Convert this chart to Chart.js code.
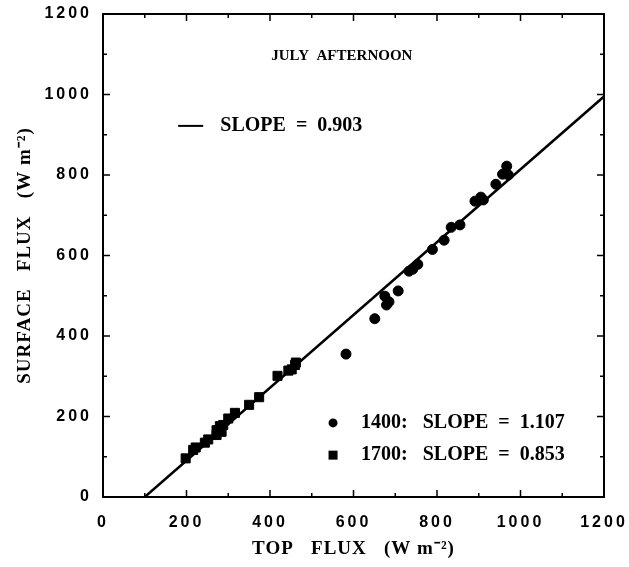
<!DOCTYPE html>
<html>
<head>
<meta charset="utf-8">
<script src="https://cdn.jsdelivr.net/npm/chart.js@4"></script>
<style>
  html, body { margin: 0; padding: 0; background: #fff; }
</style>
</head>
<body>
<canvas id="grfc_flux" width="629" height="567"></canvas>
<script>
// datos
var topFlux1400  = [582, 651, 675, 679, 685, 707, 733, 742, 754, 789, 817, 834, 855, 891, 905, 911, 941, 957, 967, 971];
var surfFlux1400 = [355, 443, 499, 477, 485, 512, 561, 566, 578, 615, 638, 670, 676, 735, 745, 738, 777, 802, 822, 800];
var topFlux1700  = [198, 216, 222, 244, 252, 272, 272, 280, 284, 288, 300, 316, 350, 374, 418, 444, 452, 460, 462];
var surfFlux1700 = [96, 117, 123, 135, 143, 154, 166, 176, 162, 179, 195, 209, 229, 248, 301, 314, 317, 328, 334];
var fitTop  = [100, 1200];
var fitSurf = [0, 995];
var axisTicks = [0, 200, 400, 600, 800, 1000, 1200];
var titulo = "JULY  AFTERNOON";
var fitLabel = "SLOPE  =  0.903";
var label1400 = "1400:   SLOPE  =  1.107";
var label1700 = "1700:   SLOPE  =  0.853";

function puntos(xs, ys) {
    return xs.map(function (x, i) { return { x: x, y: ys[i] }; });
}

var serif = "'Liberation Serif', 'Times New Roman', serif";
var sans = "'Liberation Sans', Arial, sans-serif";

// marcas, marco y textos
var adornos = {
    id: "adornos",
    beforeDraw: function (chart) {
        chart.ctx.letterSpacing = "1px";
    },
    afterDatasetsDraw: function (chart) {
        chart.ctx.letterSpacing = "3px";
    },
    afterDraw: function (chart) {
        var ctx = chart.ctx;
        var a = chart.chartArea;
        var sx = chart.scales.x, sy = chart.scales.y;
        ctx.save();
        ctx.letterSpacing = "0px";
        ctx.strokeStyle = "#000";
        ctx.lineWidth = 2;
        ctx.strokeRect(a.left, a.top, a.right - a.left, a.bottom - a.top);
        ctx.lineWidth = 1.5;
        ctx.beginPath();
        for (var v = 0; v <= 1200; v += 100) {
            var len = (v % 200 === 0) ? 7 : 4;
            var px = sx.getPixelForValue(v);
            ctx.moveTo(px, a.bottom); ctx.lineTo(px, a.bottom - len);
            ctx.moveTo(px, a.top); ctx.lineTo(px, a.top + len);
            var py = sy.getPixelForValue(v);
            ctx.moveTo(a.left, py); ctx.lineTo(a.left + len, py);
            ctx.moveTo(a.right, py); ctx.lineTo(a.right - len, py);
        }
        ctx.stroke();

        ctx.fillStyle = "#000";
        ctx.textBaseline = "middle";
        ctx.font = "bold 15px " + serif;
        ctx.textAlign = "center";
        ctx.fillText(titulo, sx.getPixelForValue(572), sy.getPixelForValue(1096));

        ctx.font = "bold 20px " + serif;
        ctx.textAlign = "left";
        ctx.lineWidth = 2;
        var ly = sy.getPixelForValue(922);
        ctx.beginPath();
        ctx.moveTo(sx.getPixelForValue(180), ly);
        ctx.lineTo(sx.getPixelForValue(240), ly);
        ctx.stroke();
        ctx.fillText(fitLabel, sx.getPixelForValue(281), ly);

        var mx = sx.getPixelForValue(551);
        var y1 = sy.getPixelForValue(184), y2 = sy.getPixelForValue(104);
        ctx.beginPath();
        ctx.arc(mx, y1, 4.5, 0, Math.PI * 2);
        ctx.fill();
        ctx.fillRect(mx - 4.5, y2 - 4.5, 9, 9);
        ctx.fillText(label1400, sx.getPixelForValue(618), y1);
        ctx.fillText(label1700, sx.getPixelForValue(618), y2);
        ctx.restore();
    }
};

var ctxFlux = document.getElementById("grfc_flux").getContext("2d");
var myChartFlux = new Chart(ctxFlux, {
    type: "scatter",
    data: {
        datasets: [{
                label: "SLOPE = 0.903",
                type: "line",
                data: puntos(fitTop, fitSurf),
                borderColor: "#000",
                borderWidth: 2.5,
                pointRadius: 0,
                fill: false
            },
            {
                label: "1400",
                data: puntos(topFlux1400, surfFlux1400),
                backgroundColor: "#000",
                borderColor: "#000",
                pointStyle: "circle",
                pointRadius: 5
            },
            {
                label: "1700",
                data: puntos(topFlux1700, surfFlux1700),
                backgroundColor: "#000",
                borderColor: "#000",
                pointStyle: "rect",
                pointRadius: 6.4
            }
        ]
    },
    options: {
        responsive: false,
        animation: false,
        layout: { padding: { top: 14, right: 25, left: 0, bottom: 0 } },
        plugins: {
            legend: { display: false },
            tooltip: { enabled: false }
        },
        scales: {
            x: {
                type: "linear",
                min: 0,
                max: 1200,
                afterFit: function (scale) {
                    scale.height = 70;
                    scale.paddingLeft = 0;
                    scale.paddingRight = 0;
                },
                afterBuildTicks: function (scale) {
                    scale.ticks = axisTicks.map(function (v) { return { value: v }; });
                },
                grid: { display: false },
                border: { display: false },
                ticks: {
                    z: 1,
                    padding: 8,
                    color: "#000",
                    maxRotation: 0,
                    font: { family: sans, weight: "bold", size: 16 },
                    callback: function (v) { return String(v); }
                },
                title: {
                    display: true,
                    text: "TOP   FLUX   (W m\u207B\u00B2)",
                    color: "#000",
                    padding: { top: 0, bottom: 7 },
                    font: { family: serif, weight: "bold", size: 19 }
                }
            },
            y: {
                type: "linear",
                min: 0,
                max: 1200,
                afterFit: function (scale) {
                    scale.width = 103;
                    scale.paddingTop = 0;
                    scale.paddingBottom = 0;
                },
                afterBuildTicks: function (scale) {
                    scale.ticks = axisTicks.map(function (v) { return { value: v }; });
                },
                grid: { display: false },
                border: { display: false },
                ticks: {
                    z: 1,
                    padding: 3,
                    color: "#000",
                    font: { family: sans, weight: "bold", size: 16 },
                    callback: function (v) { return String(v); }
                },
                title: {
                    display: true,
                    text: "SURFACE   FLUX   (W m\u207B\u00B2)",
                    color: "#000",
                    padding: { top: 14, bottom: 0 },
                    font: { family: serif, weight: "bold", size: 19 }
                }
            }
        }
    },
    plugins: [adornos]
});
</script>
</body>
</html>
